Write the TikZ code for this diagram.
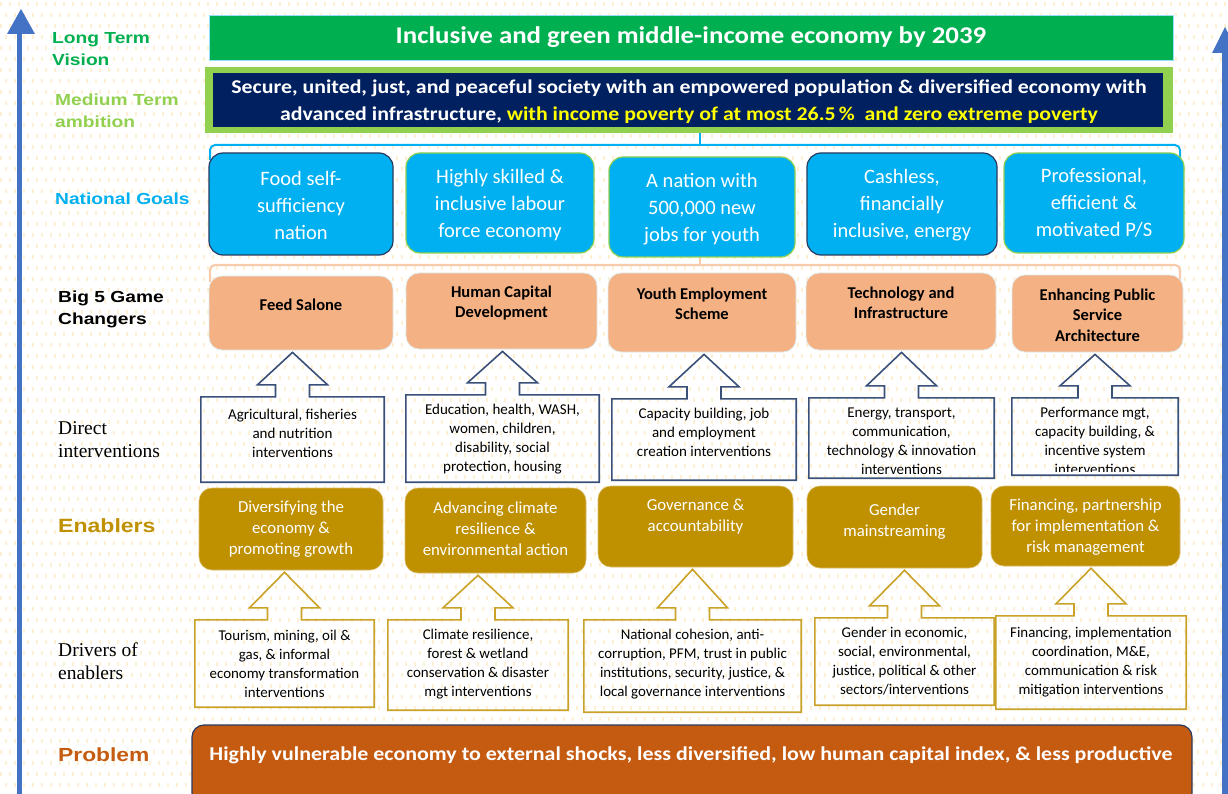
\documentclass[tikz,border=0pt]{standalone}
\usepackage{fontspec}
\setmainfont{Carlito}
\newfontfamily\wide[FakeStretch=1.12]{Carlito}
\newfontfamily\lbl[FakeStretch=1.2]{Liberation Sans}
\newfontfamily\tms{Liberation Serif}
\usetikzlibrary{calc}
\definecolor{vgreen}{HTML}{00B050}
\definecolor{lgreen}{HTML}{92D050}
\definecolor{navy}{HTML}{002060}
\definecolor{gblue}{HTML}{00B0F0}
\definecolor{bnavy}{HTML}{2B3A5E}
\definecolor{peach}{HTML}{F4B183}
\definecolor{peachline}{HTML}{F8CBAD}
\definecolor{gold}{HTML}{BF9000}
\definecolor{goldline}{HTML}{C9A227}
\definecolor{rust}{HTML}{C55A11}
\definecolor{slate}{HTML}{3A5078}
\definecolor{arrowblue}{HTML}{4472C4}
\definecolor{seed}{HTML}{FDF0D4}
\definecolor{yel}{HTML}{FFFF00}
\newcommand\bx[8]{%
  \node[#2, minimum width={#5-#3}, minimum height={#6-#4}, inner sep=0] (#1) at ({(#3+#5)/2},{(#4+#6)/2}) {};
  \node[#2t] (#1t) at ({(#3+#5)/2},#7) {#8};
}
\newcommand\callout[3]{%
  \draw[#3, line width=1.6, line join=miter] let \p1=(#1.north), \p2=(#2.south) in
  (#1.north west) -- (\x1-17pt,\y1) -- (\x1-17pt,\y1+12pt) -- (\x1-35pt,\y1+12pt)
  -- (\x1,\y2-2pt) -- (\x1+35pt,\y1+12pt) -- (\x1+17pt,\y1+12pt) -- (\x1+17pt,\y1)
  -- (#1.north east) -- (#1.south east) -- (#1.south west) -- cycle;
}
\begin{document}
\begin{tikzpicture}[x=1pt,y=-1pt,
  lab/.style={anchor=west, align=left, inner sep=0, font=\lbl\bfseries\fontsize{16}{22}\selectfont},
  tlab/.style={anchor=west, align=left, inner sep=0, font=\tms\fontsize{19.5}{23}\selectfont},
  goal/.style={draw=lgreen, line width=1.2, fill=gblue, rounded corners=14},
  goalt/.style={align=center, inner sep=0, text=white, font=\fontsize{20.5}{27}\selectfont},
  goaln/.style={goal, draw=bnavy},
  goalnt/.style={goalt},
  big/.style={draw=peachline!60!gblue!30, line width=0.8, fill=peach, rounded corners=13},
  bigt/.style={align=center, inner sep=0, text=black, font=\bfseries\fontsize{16.5}{20.5}\selectfont},
  dbox/.style={rectangle},
  dboxt/.style={align=center, inner sep=0, text=black, font=\fontsize{15}{19}\selectfont},
  rbox/.style={rectangle},
  rboxt/.style={align=center, inner sep=0, text=black, font=\fontsize{14.9}{19}\selectfont},
  ena/.style={draw=gold!60!white, line width=0.6, fill=gold, rounded corners=13},
  enat/.style={align=center, inner sep=0, text=white, font=\fontsize{16.8}{21}\selectfont},
]
\useasboundingbox (0,0) rectangle (1228,794);
% background seed pattern
\fill[white] (0,0) rectangle (1228,794);
\foreach \r in {0,...,72}{
  \pgfmathsetmacro\ph{mod(\r,2)*4.5}
  \draw[seed, line width=4.5, dash pattern=on 2.2pt off 6.8pt, dash phase=\ph pt] (0,{\r*11+4}) -- (1228,{\r*11+4});
}
% side arrows
\fill[arrowblue] (17,794) rectangle (22,32);
\fill[arrowblue] (7,34) -- (21,9) -- (35,34) -- cycle;
\fill[arrowblue] (1222,794) rectangle (1230,50);
\fill[arrowblue] (1212,53) -- (1225,27) -- (1238,53) -- cycle;

% left labels
\node[lab, text=vgreen] (lv) at (52,49) {Long Term\\Vision};
\node[lab, text=lgreen] (lm) at (55,111) {Medium Term\\ambition};
\node[lab, text=gblue] (lg) at (55,199) {National Goals};
\node[lab, text=black] (lb) at (58,309) {Big 5 Game\\Changers};
\node[tlab] (ld) at (58,439.5) {Direct\\interventions};
\node[lab, text=gold, font=\lbl\bfseries\fontsize{19.2}{22}\selectfont] (le) at (58,526) {Enablers};
\node[tlab] (lr) at (58,661.5) {Drivers of\\enablers};
\node[lab, text=rust, font=\lbl\bfseries\fontsize{19}{22}\selectfont] (lp) at (58,755) {Problem};

% vision
\node[draw=gblue!40, line width=0.8, fill=vgreen, minimum width=964, minimum height=45, inner sep=0,
  text=white, font=\wide\bfseries\fontsize{24}{27}\selectfont] (vis) at (691,37.5) {Inclusive and green middle-income economy by 2039};
% medium ambition
\node[fill=lgreen, minimum width=968, minimum height=66, inner sep=0] (midout) at (689,100) {};
\node[fill=navy, minimum width=950, minimum height=54, inner sep=0] (mid) at (688,100.5) {};
\node[align=center, text=white, inner sep=0, font=\wide\bfseries\fontsize{19.5}{27}\selectfont] (midt) at (689,101.5)
  {Secure, united, just, and peaceful society with an empowered population \& diversified economy with\\
   advanced infrastructure, \textcolor{yel}{with income poverty of at most 26.5\,\%\ \ and zero extreme poverty}};

% brackets
\coordinate (bk1) at (700,145);
\draw[gblue, line width=2] (bk1) -- (bk1 |- midout.south);
\draw[gblue, line width=2, rounded corners=5] (210,160) -- (210,145) -- (1180,145) -- (1180,160);
\coordinate (bk2) at (700,265);
\draw[peachline, line width=2.2, rounded corners=5] (210,282) -- (210,265) -- (1180,265) -- (1180,282);

% national goals
\bx{g1}{goaln}{209}{153}{393}{255}{205}{Food self-\\sufficiency\\nation}
\bx{g2}{goal}{406}{153}{594}{253}{205}{Highly skilled \&\\inclusive labour\\force economy}
\bx{g3}{goal}{609}{157}{795}{257}{209}{A nation with\\500,000 new\\jobs for youth}
\bx{g4}{goaln}{807}{153}{997}{255}{205}{Cashless,\\financially\\inclusive, energy}
\bx{g5}{goal}{1004}{153}{1184}{253}{203}{Professional,\\efficient \&\\motivated P/S}
\draw[peachline, line width=2.2] (bk2) -- (bk2 |- g3.south);

% big 5
\bx{b1}{big}{209}{276}{393}{350}{305}{Feed Salone}
\bx{b2}{big}{406}{273}{597}{349}{303}{Human Capital\\Development}
\bx{b3}{big}{608}{273}{796}{352}{304}{Youth Employment\\Scheme}
\bx{b4}{big}{806}{273}{996}{350}{303}{Technology and\\Infrastructure}
\bx{b5}{big}{1012}{275}{1183}{352}{315}{Enhancing Public\\Service\\Architecture}

% direct interventions
\bx{d1}{dbox}{201}{397}{384}{482}{433}{Agricultural, fisheries\\and nutrition\\interventions}
\bx{d2}{dbox}{406}{395}{599}{482}{439.5}{Education, health, WASH,\\women, children,\\disability, social\\protection, housing}
\bx{d3}{dbox}{612}{399}{796}{480}{432}{Capacity building, job\\and employment\\creation interventions}
\bx{d4}{dbox}{809}{398}{994}{478}{441}{Energy, transport,\\communication,\\technology \& innovation\\interventions}
\node[dbox, minimum width=166, minimum height=77, inner sep=0] (d5) at (1095,436.5) {};
\begin{scope}
\clip (1012,398) rectangle (1178,471.5);
\node[dboxt] (d5t) at (1095,441) {Performance mgt,\\capacity building, \&\\incentive system\\interventions};
\end{scope}
\callout{d1}{b1}{slate}
\callout{d2}{b2}{slate}
\callout{d3}{b3}{slate}
\callout{d4}{b4}{slate}
\callout{d5}{b5}{slate}

% enablers
\bx{e1}{ena}{199}{488}{383}{570}{529}{Diversifying the\\economy \&\\promoting growth}
\bx{e2}{ena}{405}{488}{586}{573}{529}{Advancing climate\\resilience \&\\environmental action}
\bx{e3}{ena}{598}{486}{793}{567}{516.5}{Governance \&\\accountability}
\bx{e4}{ena}{807}{486}{982}{568}{521.5}{Gender\\mainstreaming}
\bx{e5}{ena}{991}{486}{1180}{566}{527.5}{Financing, partnership\\for implementation \&\\risk management}

% drivers
\bx{r1}{rbox}{195}{620}{374}{707}{664}{Tourism, mining, oil \&\\gas, \& informal\\economy transformation\\interventions}
\bx{r2}{rbox}{388}{620}{568}{710}{664.5}{Climate resilience,\\forest \& wetland\\conservation \& disaster\\mgt interventions}
\bx{r3}{rbox}{584}{620}{801}{712}{664.5}{National cohesion, anti-\\corruption, PFM, trust in public\\institutions, security, justice, \&\\local governance interventions}
\bx{r4}{rbox}{815}{618}{994}{705}{661.5}{Gender in economic,\\social, environmental,\\justice, political \& other\\sectors/interventions}
\bx{r5}{rbox}{996}{616}{1186}{709}{662.5}{Financing, implementation\\coordination, M\&E,\\communication \& risk\\mitigation interventions}
\callout{r1}{e1}{goldline}
\callout{r2}{e2}{goldline}
\callout{r3}{e3}{goldline}
\callout{r4}{e4}{goldline}
\callout{r5}{e5}{goldline}

% problem
\node[draw=bnavy, line width=1.2, fill=rust, rounded corners=12, minimum width=1000, minimum height=80, inner sep=0] (prob) at (692,765) {};
\node[text=white, inner sep=0, font=\wide\bfseries\fontsize{19.6}{23}\selectfont] (probt) at (691,755)
  {Highly vulnerable economy to external shocks, less diversified, low human capital index, \& less productive};
\end{tikzpicture}
\end{document}
